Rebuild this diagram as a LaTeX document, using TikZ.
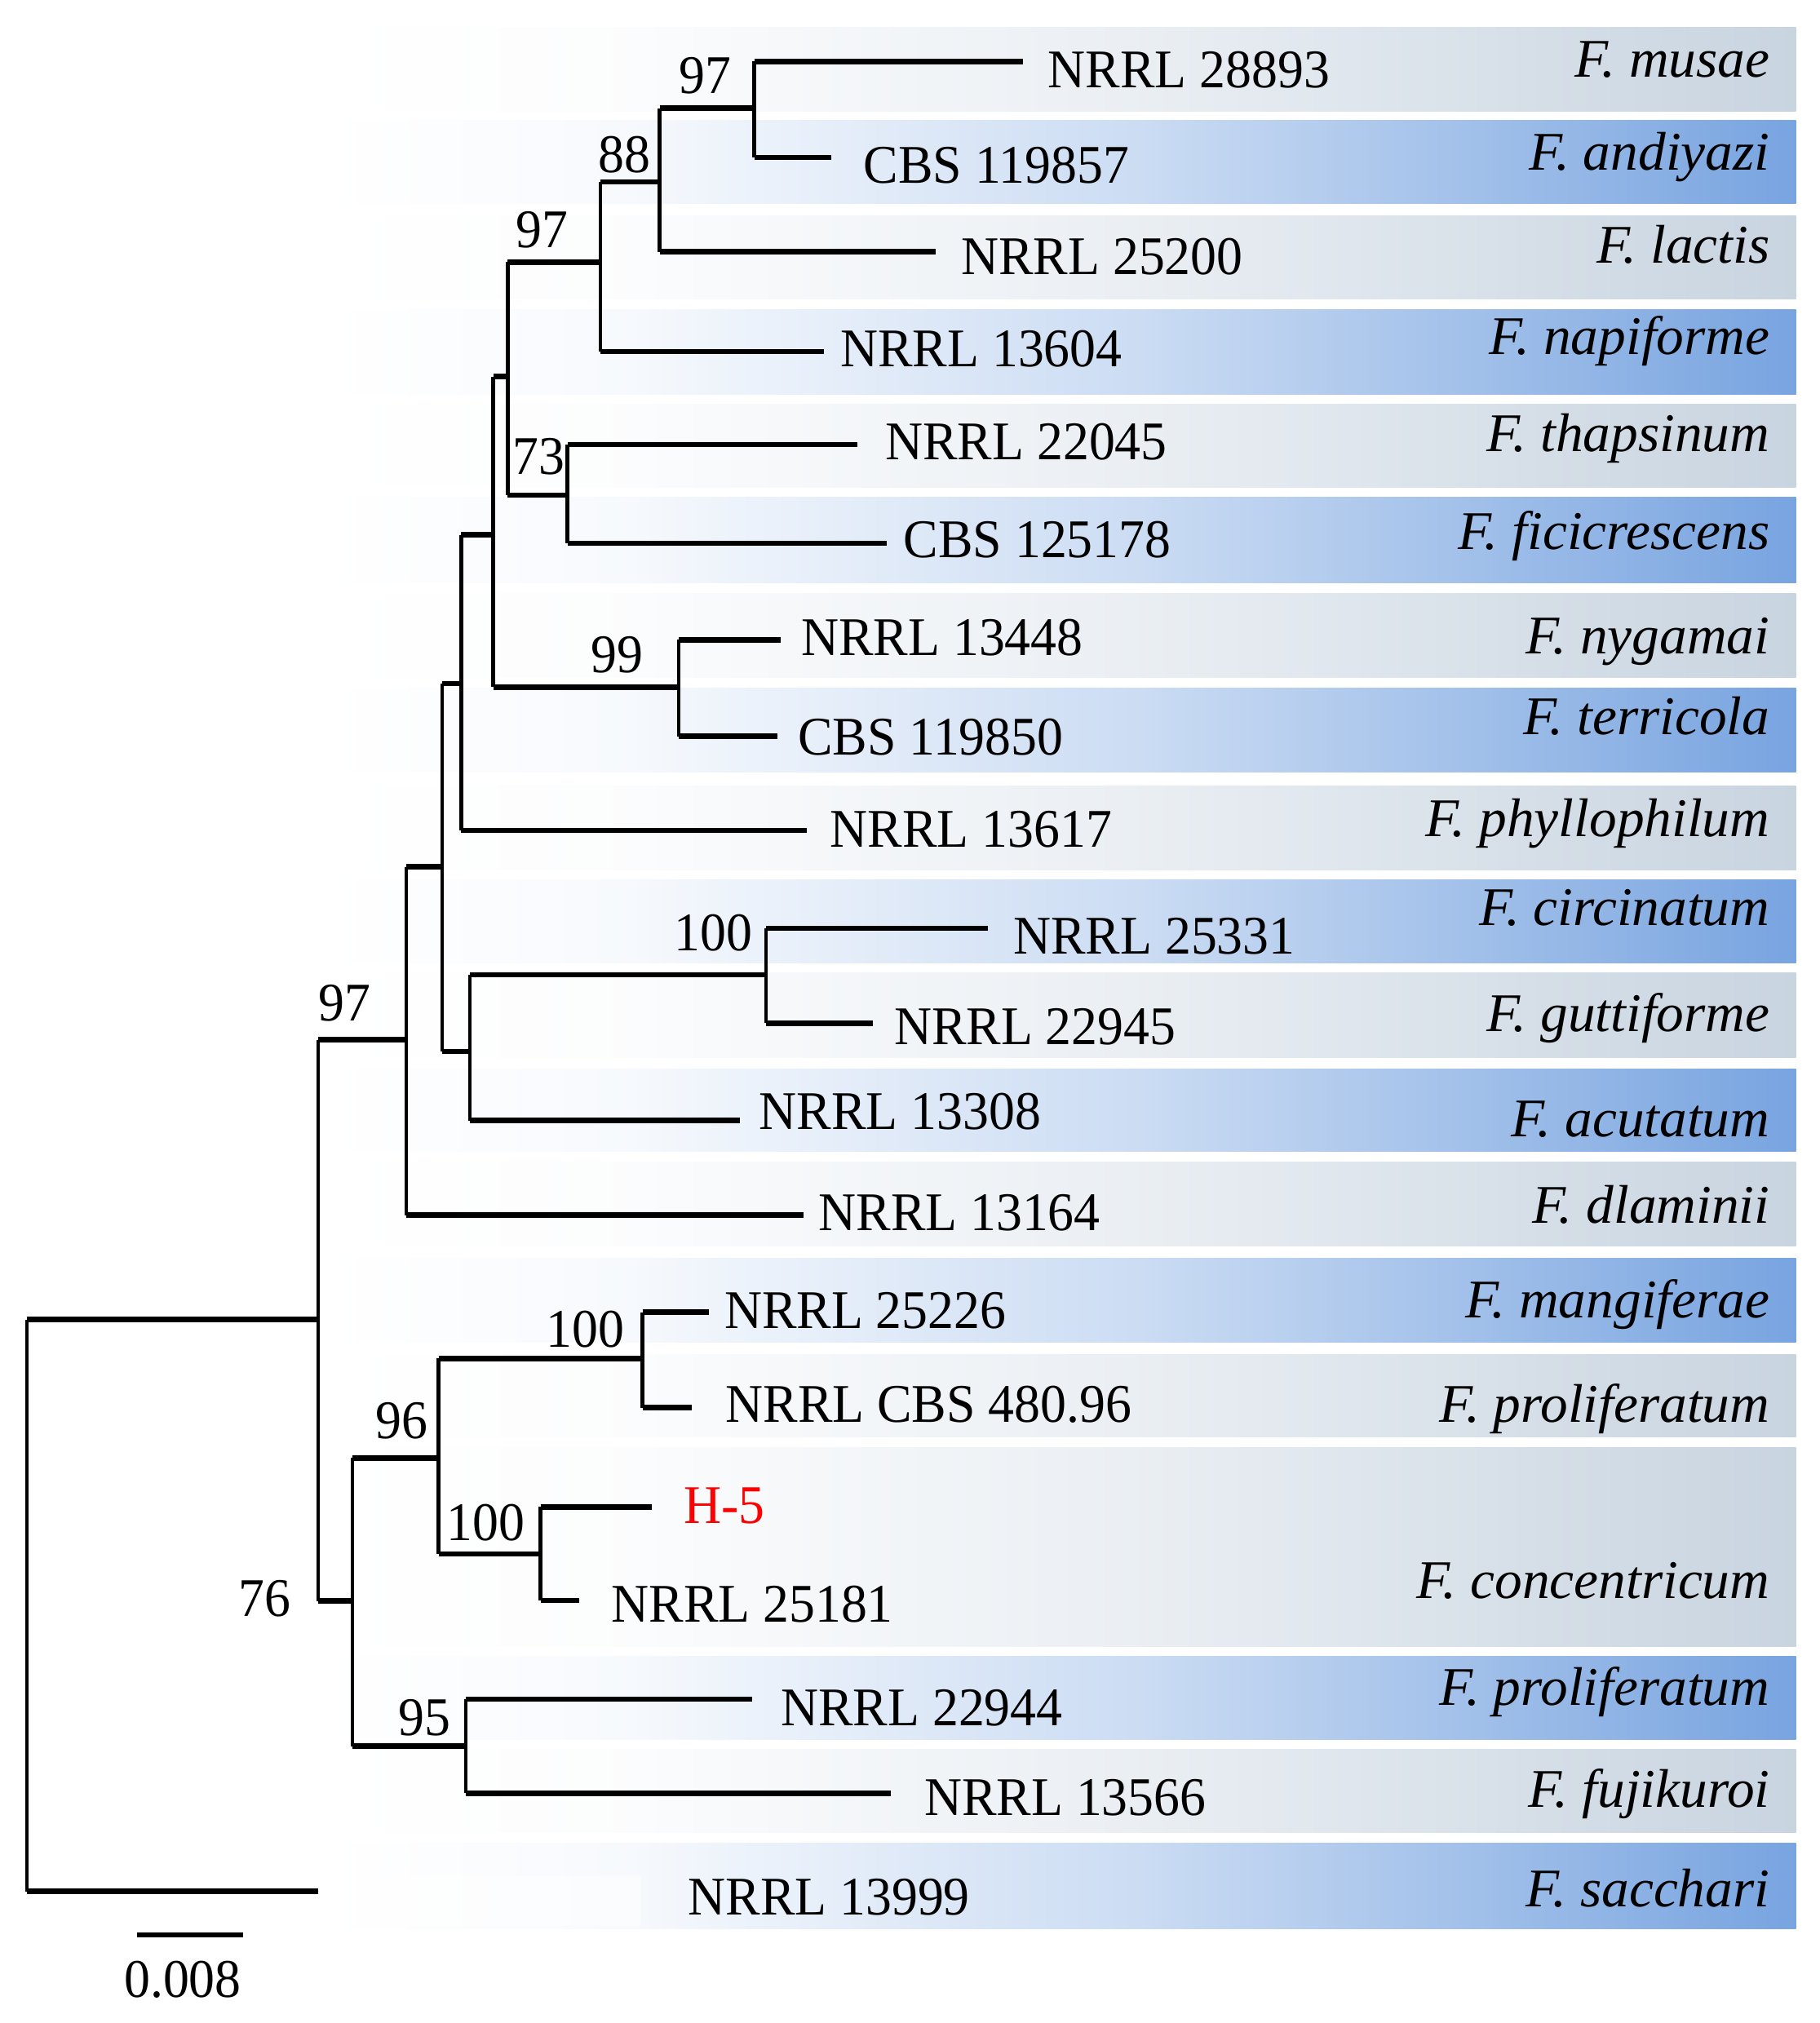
\documentclass[tikz,border=0pt]{standalone}
\usepackage{fontspec}
\setmainfont{Liberation Serif}
\newfontfamily\labfont[FakeStretch=0.955]{Liberation Serif}
\newfontfamily\spcfont[FakeStretch=1.01]{Liberation Serif}
\definecolor{greyband}{RGB}{200,212,224}
\definecolor{blueband}{RGB}{120,164,224}
\definecolor{hred}{RGB}{255,0,0}
\pgfdeclarehorizontalshading{gshade}{100bp}{color(0bp)=(white); color(25bp)=(white); color(35bp)=(white!94!greyband); color(52.5bp)=(white!62!greyband); color(75bp)=(greyband); color(100bp)=(greyband)}
\pgfdeclarehorizontalshading{bshade}{100bp}{color(0bp)=(white); color(25bp)=(white); color(35bp)=(white!94!blueband); color(52.5bp)=(white!62!blueband); color(75bp)=(blueband); color(100bp)=(blueband)}
\tikzset{
  hbr/.style={line width=1.9pt},
  vbr/.style={line width=1.3pt},
  tiplab/.style={anchor=base west, inner sep=0pt, font=\labfont\fontsize{19}{22}\selectfont},
  boot/.style={anchor=base, inner sep=0pt, font=\labfont\fontsize{19}{22}\selectfont},
  spec/.style={anchor=base east, inner sep=0pt, font=\spcfont\itshape\fontsize{19}{22}\selectfont},
  gband/.style={shading=gshade},
  bband/.style={shading=bshade},
}
\newcommand\clade[3]{%
  \draw[vbr] (#2 -| #1) -- (#3 -| #1);
  \draw[hbr] (#2 -| #1) -- (#2);
  \draw[hbr] (#3 -| #1) -- (#3);}
\begin{document}
\begin{tikzpicture}[x=0.015816cm, y=-0.015816cm]
\useasboundingbox (0,0) rectangle (1410,1568);
% ---- bands ----
\shade[gband] (254,21) rectangle (1392,86.4);
\shade[bband] (254,93.5) rectangle (1392,158);
\shade[gband] (254,167) rectangle (1392,231.5);
\shade[bband] (254,240) rectangle (1392,306);
\shade[gband] (254,313) rectangle (1392,377.5);
\shade[bband] (254,385.5) rectangle (1392,451.5);
\shade[gband] (254,460) rectangle (1392,525);
\shade[bband] (254,533.5) rectangle (1392,598.4);
\shade[gband] (254,609) rectangle (1392,674);
\shade[bband] (254,682) rectangle (1392,746.3);
\shade[gband] (254,754.2) rectangle (1392,820);
\shade[bband] (254,828.4) rectangle (1392,892.5);
\shade[gband] (254,900.4) rectangle (1392,966);
\shade[bband] (254,975.3) rectangle (1392,1040.5);
\shade[gband] (254,1050) rectangle (1392,1114);
\shade[gband] (254,1122) rectangle (1392,1276);
\shade[bband] (254,1283.5) rectangle (1392,1348.3);
\shade[gband] (254,1356) rectangle (1392,1420.6);
\shade[bband] (254,1428.5) rectangle (1392,1494.7);
\fill[white, opacity=0.5] (257,1454) rectangle (497,1493);
% ---- tree coordinates ----
\coordinate (root) at (21,1244);
\coordinate (A) at (246.5,1022.7);
\coordinate (t20) at (246.5,1466);
\coordinate (B) at (314.8,805.9);
\coordinate (N) at (273,1241);
\coordinate (C) at (342.7,671.8);
\coordinate (t13) at (622.8,941.9);
\coordinate (D) at (357.5,529.8);
\coordinate (E) at (364.2,814.9);
\coordinate (F) at (382.3,414.5);
\coordinate (t9) at (625,643.6);
\coordinate (G) at (393.5,291.9);
\coordinate (L) at (526,532.6);
\coordinate (H) at (465.4,203.2);
\coordinate (I) at (439.8,383.8);
\coordinate (J) at (511.3,141);
\coordinate (t4) at (638.6,272.6);
\coordinate (K) at (584.6,83.9);
\coordinate (t3) at (725,195.2);
\coordinate (t1) at (792.7,47.7);
\coordinate (t2) at (644,122);
\coordinate (t5) at (664.7,344.5);
\coordinate (t6) at (687,421);
\coordinate (t7) at (604.8,496);
\coordinate (t8) at (602.6,570.7);
\coordinate (M) at (593.6,755.6);
\coordinate (t12) at (573.4,868.6);
\coordinate (t10) at (765.7,719.6);
\coordinate (t11) at (676.8,793);
\coordinate (O) at (340,1130);
\coordinate (R) at (361,1353.5);
\coordinate (P) at (498,1053);
\coordinate (Q) at (419,1204.5);
\coordinate (t14) at (549.6,1017);
\coordinate (t15) at (536,1091);
\coordinate (t16) at (505.2,1168);
\coordinate (t17) at (449,1240.5);
\coordinate (t18) at (583,1317);
\coordinate (t19) at (690.3,1390);
% ---- branches ----
\clade{root}{A}{t20}
\clade{A}{B}{N}
\clade{B}{C}{t13}
\clade{C}{D}{E}
\clade{D}{F}{t9}
\clade{F}{G}{L}
\clade{G}{H}{I}
\clade{H}{J}{t4}
\clade{J}{K}{t3}
\clade{K}{t1}{t2}
\clade{I}{t5}{t6}
\clade{L}{t7}{t8}
\clade{E}{M}{t12}
\clade{M}{t10}{t11}
\clade{N}{O}{R}
\clade{O}{P}{Q}
\clade{P}{t14}{t15}
\clade{Q}{t16}{t17}
\clade{R}{t18}{t19}
% ---- bootstrap values ----
\node[boot] (b1) at (546.4,72.6) {97};
\node[boot] (b2) at (484,134) {88};
\node[boot] (b3) at (420,192) {97};
\node[boot] (b4) at (417.8,367.7) {73};
\node[boot] (b5) at (478,521) {99};
\node[boot] (b6) at (552.7,737.2) {100};
\node[boot] (b7) at (267,791) {97};
\node[boot] (b8) at (453.8,1044) {100};
\node[boot] (b9) at (311.4,1115.2) {96};
\node[boot] (b10) at (376.6,1194.2) {100};
\node[boot] (b11) at (205,1252.7) {76};
\node[boot] (b12) at (329,1344.8) {95};
% ---- tip labels ----
\node[tiplab] (l1) at (811.8,67.9) {NRRL 28893};
\node[tiplab] (l2) at (669,142) {CBS 119857};
\node[tiplab] (l3) at (744.5,212.9) {NRRL 25200};
\node[tiplab] (l4) at (651,283.9) {NRRL 13604};
\node[tiplab] (l5) at (685.8,356.5) {NRRL 22045};
\node[tiplab] (l6) at (700,432.3) {CBS 125178};
\node[tiplab] (l7) at (620.6,508) {NRRL 13448};
\node[tiplab] (l8) at (618,584.9) {CBS 119850};
\node[tiplab] (l9) at (643,656.8) {NRRL 13617};
\node[tiplab] (l10) at (785,739.5) {NRRL 25331};
\node[tiplab] (l11) at (692.5,809.3) {NRRL 22945};
\node[tiplab] (l12) at (588,875.6) {NRRL 13308};
\node[tiplab] (l13) at (634,954) {NRRL 13164};
\node[tiplab] (l14) at (561,1029.4) {NRRL 25226};
\node[tiplab] (l15) at (562,1102.5) {NRRL CBS 480.96};
\node[tiplab, text=hred] (l16) at (529.4,1180.7) {H-5};
\node[tiplab] (l17) at (473.5,1257.2) {NRRL 25181};
\node[tiplab] (l18) at (604.8,1337.6) {NRRL 22944};
\node[tiplab] (l19) at (716,1406.8) {NRRL 13566};
\node[tiplab] (l20) at (532.9,1484) {NRRL 13999};
% ---- species ----
\node[spec] (s1) at (1372,59.7) {F. musae};
\node[spec] (s2) at (1372,132) {F. andiyazi};
\node[spec] (s3) at (1372,204) {F. lactis};
\node[spec] (s4) at (1372,275) {F. napiforme};
\node[spec] (s5) at (1372,350) {F. thapsinum};
\node[spec] (s6) at (1372,426) {F. ficicrescens};
\node[spec] (s7) at (1372,507) {F. nygamai};
\node[spec] (s8) at (1372,569.3) {F. terricola};
\node[spec] (s9) at (1372,648.3) {F. phyllophilum};
\node[spec] (s10) at (1372,717.5) {F. circinatum};
\node[spec] (s11) at (1372,799.4) {F. guttiforme};
\node[spec] (s12) at (1372,881.2) {F. acutatum};
\node[spec] (s13) at (1372,948) {F. dlaminii};
\node[spec] (s14) at (1372,1021.5) {F. mangiferae};
\node[spec] (s15) at (1372,1102.5) {F. proliferatum};
\node[spec] (s16) at (1372,1238.7) {F. concentricum};
\node[spec] (s17) at (1372,1322) {F. proliferatum};
\node[spec] (s18) at (1372,1401) {F. fujikuroi};
\node[spec] (s19) at (1372,1478) {F. sacchari};
% ---- scale bar ----
\coordinate (sb1) at (106.2,1499.7);
\coordinate (sb2) at (188.4,1499.7);
\draw[line width=1.45pt] (sb1) -- (sb2);
\node[boot] (sblab) at (141.6,1547.8) {0.008};
\end{tikzpicture}
\end{document}
